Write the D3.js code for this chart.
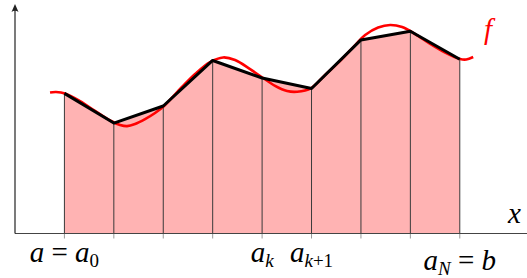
<!DOCTYPE html>
<html lang="en">
<head>
<meta charset="UTF-8">
<title>Trapezoid rule</title>
<script src="https://d3js.org/d3.v7.min.js"></script>
<style>
  html, body { margin: 0; padding: 0; background: #fff; }
  svg { display: block; }
  .lbl { font-family: "Liberation Serif", serif; font-size: 29px; }
  .it { font-style: italic; }
</style>
</head>
<body>
<svg id="canvas" width="527" height="278"></svg>
<script>
// partition points a_0 .. a_N and the trapezoid heights
let nodeX = [1, 2, 3, 4, 5, 6, 7, 8, 9]
let nodeY = [6.00, 4.73, 5.46, 7.41, 6.66, 6.21, 8.29, 8.66, 7.46]

// the function f
let curveX = [0.709, 0.830, 1.012, 1.316, 1.619, 1.923, 2.126, 2.267, 2.429, 2.632, 2.834, 3.016,
  3.340, 3.644, 3.947, 4.211, 4.453, 4.757, 5.020, 5.263, 5.506, 5.709, 5.992, 6.275, 6.579,
  6.883, 7.085, 7.348, 7.591, 7.834, 8.097, 8.401, 8.704, 9.008, 9.130, 9.271]
let curveY = [6.04, 6.06, 6.00, 5.67, 5.25, 4.84, 4.65, 4.60, 4.69, 4.90, 5.16, 5.46,
  6.19, 6.83, 7.34, 7.54, 7.43, 7.04, 6.66, 6.32, 6.10, 6.07, 6.23, 6.79, 7.39,
  8.07, 8.50, 8.82, 8.93, 8.84, 8.54, 8.12, 7.75, 7.47, 7.45, 7.56]

// tick labels under the axis, as runs of [text, italic?, subscript?]
let tickLabels = [
  { i: 0, low: false, runs: [['a', 1, 0], [' = ', 0, 0], ['a', 1, 0], ['0', 0, 1]] },
  { i: 4, low: false, runs: [['a', 1, 0], ['k', 1, 1]] },
  { i: 5, low: false, runs: [['a', 1, 0], ['k', 1, 1], ['+1', 0, 1]] },
  { i: 8, low: true, runs: [['a', 1, 0], ['N', 1, 1], [' = ', 0, 0], ['b', 1, 0]] }
]

let svg = d3.select('#canvas')

let x = d3.scaleLinear().domain([0, 10.36]).range([15, 527])
let y = d3.scaleLinear().domain([0, 10]).range([233.5, 0])

let nodes = nodeX.map((d, i) => ({ x: d, y: nodeY[i] }))
let curve = curveX.map((d, i) => ({ x: d, y: curveY[i] }))

// shaded area under the trapezoids
svg.append('path')
  .datum(nodes)
  .attr('fill', '#ffb3b3')
  .attr('d', d3.area().x(d => x(d.x)).y0(y(0)).y1(d => y(d.y)))

// small ticks below the axis
svg.selectAll('.tick')
  .data(nodes)
  .enter()
  .append('line')
  .attr('x1', d => x(d.x)).attr('x2', d => x(d.x))
  .attr('y1', y(0)).attr('y2', y(0) + 5)
  .attr('stroke', '#999')
  .attr('stroke-width', 1)

// vertical sides of the trapezoids
svg.selectAll('.side')
  .data(nodes)
  .enter()
  .append('line')
  .attr('x1', d => x(d.x)).attr('x2', d => x(d.x))
  .attr('y1', y(0)).attr('y2', d => y(d.y))
  .attr('stroke', '#3a3a3a')
  .attr('stroke-width', 1)

// axes
svg.append('line')
  .attr('x1', x(0)).attr('x2', 527)
  .attr('y1', y(0)).attr('y2', y(0))
  .attr('stroke', '#444')
  .attr('stroke-width', 1.2)

svg.append('line')
  .attr('x1', x(0)).attr('x2', x(0))
  .attr('y1', y(0)).attr('y2', 8)
  .attr('stroke', '#222')
  .attr('stroke-width', 1.2)

svg.append('path')
  .attr('d', `M${x(0)},4 L${x(0) + 3.5},12 Q${x(0)},9.5 ${x(0) - 3.5},12 Z`)
  .attr('fill', '#222')

// f
svg.append('path')
  .datum(curve)
  .attr('fill', 'none')
  .attr('stroke', '#ff0000')
  .attr('stroke-width', 2.6)
  .attr('d', d3.line().x(d => x(d.x)).y(d => y(d.y)).curve(d3.curveCatmullRom.alpha(0.5)))

// trapezoid tops
svg.append('path')
  .datum(nodes)
  .attr('fill', 'none')
  .attr('stroke', '#000')
  .attr('stroke-width', 3)
  .attr('stroke-linejoin', 'round')
  .attr('d', d3.line().x(d => x(d.x)).y(d => y(d.y)))

// labels
tickLabels.forEach(t => {
  let txt = svg.append('text')
    .attr('class', 'lbl')
    .attr('x', x(nodeX[t.i]))
    .attr('y', t.low ? 270 : 262)
    .attr('text-anchor', 'middle')
  let shifted = false
  t.runs.forEach(([s, it, sub]) => {
    let ts = txt.append('tspan').text(s)
    if (it) ts.attr('class', 'it')
    if (sub) ts.attr('font-size', '19px')
    if (sub && !shifted) { ts.attr('dy', 5); shifted = true }
    if (!sub && shifted) { ts.attr('dy', -5); shifted = false }
  })
})

svg.append('text')
  .attr('class', 'lbl it')
  .attr('x', 484).attr('y', 39)
  .attr('fill', '#ff0000')
  .text('f')

svg.append('text')
  .attr('class', 'lbl it')
  .attr('x', 508).attr('y', 223)
  .text('x')
</script>
</body>
</html>
